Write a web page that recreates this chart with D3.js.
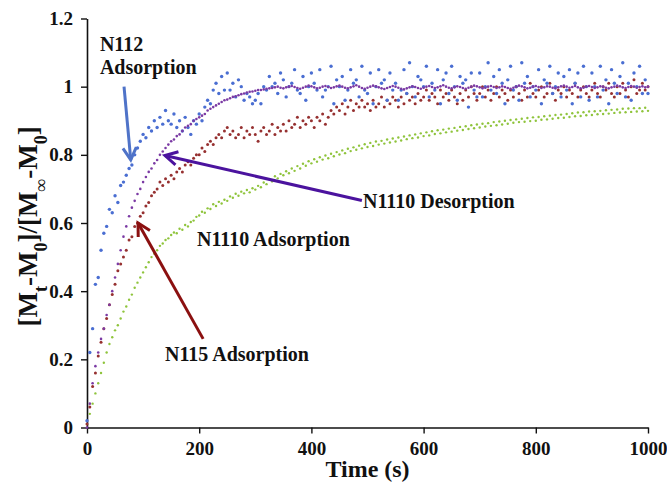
<!DOCTYPE html>
<html>
<head>
<meta charset="utf-8">
<script src="https://cdn.jsdelivr.net/npm/d3@7"></script>
<style>
  html, body { margin: 0; padding: 0; background: #fff; }
  svg { display: block; }
  text { font-family: "Liberation Serif", "Times New Roman", serif; font-weight: bold; fill: #111; }
</style>
</head>
<body>
<svg id="chart" width="667" height="486"></svg>
<script>
// Sampling interval of the uptake runs (s)
const timeStep = 5;

// Normalised uptake [Mt-M0]/[Minf-M0], one value every 5 s from 0 to 1000 s
const n112Adsorption = [
  0.02, 0.22, 0.29, 0.42, 0.44, 0.52, 0.57, 0.59, 0.64, 0.63,
  0.68, 0.66, 0.71, 0.72, 0.74, 0.76, 0.77, 0.80, 0.82, 0.84,
  0.86, 0.85, 0.88, 0.87, 0.90, 0.88, 0.91, 0.89, 0.93, 0.90,
  0.89, 0.92, 0.88, 0.90, 0.87, 0.91, 0.88, 0.86, 0.90, 0.89,
  0.92, 0.90, 0.94, 0.96, 0.95, 0.99, 1.01, 0.98, 1.03, 0.99,
  1.04, 0.99, 1.01, 0.97, 1.02, 1.00, 0.96, 0.98, 0.97, 0.95,
  0.96, 0.98, 0.95, 1.00, 0.99, 1.03, 1.00, 1.01, 0.98, 1.04,
  1.02, 0.97, 1.00, 1.01, 1.05, 0.99, 0.98, 1.03, 0.96, 1.00,
  1.04, 1.01, 0.99, 1.05, 0.97, 0.99, 1.00, 1.06, 0.95, 1.02,
  1.00, 1.03, 0.96, 0.99, 1.05, 1.01, 1.02, 0.97, 1.06, 0.99,
  0.98, 1.04, 0.95, 1.00, 1.05, 1.01, 1.02, 0.96, 1.04, 0.99,
  1.01, 0.96, 0.99, 1.05, 0.98, 1.07, 1.00, 0.97, 1.03, 1.02,
  1.00, 1.06, 0.97, 1.01, 0.99, 1.05, 0.95, 1.02, 1.04, 0.98,
  1.06, 1.00, 0.96, 1.03, 1.01, 1.02, 0.94, 1.04, 0.99, 0.97,
  1.04, 0.97, 1.00, 1.07, 0.99, 1.03, 0.98, 1.05, 1.01, 0.95,
  1.02, 1.06, 0.99, 1.00, 0.96, 1.07, 1.01, 1.03, 0.97, 1.00,
  0.99, 1.05, 0.95, 1.02, 1.01, 1.06, 0.98, 1.00, 1.04, 0.97,
  1.03, 0.99, 1.05, 0.95, 1.01, 1.04, 0.97, 1.06, 1.00, 0.96,
  1.04, 1.00, 0.97, 1.06, 0.99, 1.02, 0.95, 1.05, 1.01, 0.98,
  1.03, 1.07, 0.97, 1.01, 0.96, 1.04, 1.00, 1.06, 0.98, 1.02,
  0.98
];

const n1110Desorption = [
  0.00, 0.07, 0.13, 0.18, 0.22, 0.26, 0.29, 0.33, 0.36, 0.40,
  0.44, 0.48, 0.52, 0.56, 0.59, 0.62, 0.645, 0.665, 0.685, 0.70,
  0.72, 0.735, 0.75, 0.76, 0.775, 0.785, 0.80, 0.81, 0.82, 0.83,
  0.84, 0.845, 0.855, 0.86, 0.87, 0.88, 0.885, 0.89, 0.90, 0.905,
  0.91, 0.915, 0.92, 0.93, 0.935, 0.94, 0.945, 0.95, 0.955, 0.96,
  0.962, 0.966, 0.97, 0.972, 0.975, 0.978, 0.98, 0.983, 0.985, 0.986,
  0.988, 0.99, 0.99, 0.992, 0.994, 0.995, 0.996, 0.998, 1.0, 0.997,
  0.995, 0.998, 1.0, 1.002, 0.999, 0.996, 0.994, 0.997, 1.0, 1.003,
  1.001, 0.998, 0.995, 0.997, 1.0, 1.002, 0.999, 0.996, 0.998, 1.001,
  1.003, 1.0, 0.997, 0.995, 0.998, 1.001, 1.004, 1.0, 0.996, 0.994,
  0.997, 1.0, 1.003, 1.001, 0.998, 0.995, 0.993, 0.996, 0.999, 1.002,
  1.0, 0.997, 0.994, 0.992, 0.995, 0.998, 1.001, 0.999, 0.996, 0.994,
  0.997, 1.0, 1.002, 0.999, 0.996, 0.998, 1.001, 1.004, 1.0, 0.997,
  0.995, 0.998, 1.001, 0.999, 0.996, 0.994, 0.997, 1.0, 1.003, 1.001,
  0.998, 0.995, 0.997, 1.0, 1.002, 0.999, 0.996, 0.998, 1.001, 0.999,
  0.996, 0.994, 0.997, 1.0, 1.003, 1.001, 0.998, 0.995, 0.997, 1.0,
  1.002, 0.999, 0.996, 0.998, 1.001, 1.0, 0.997, 0.995, 0.998, 1.001,
  1.003, 1.0, 0.997, 0.999, 1.002, 0.998, 0.995, 0.997, 1.0, 1.002,
  0.999, 0.996, 0.998, 1.001, 1.0, 0.997, 0.995, 0.998, 1.0, 1.003,
  1.001, 0.998, 0.996, 0.999, 1.002, 1.0, 0.997, 0.999, 1.001, 0.998,
  1.0
];

const n115Adsorption = [
  0.01, 0.06, 0.12, 0.16, 0.21, 0.25, 0.29, 0.32, 0.36, 0.39,
  0.42, 0.46, 0.48, 0.50, 0.52, 0.55, 0.56, 0.59, 0.60, 0.62,
  0.63, 0.65, 0.66, 0.68, 0.69, 0.70, 0.72, 0.71, 0.73, 0.72,
  0.74, 0.73, 0.75, 0.76, 0.75, 0.77, 0.78, 0.77, 0.79, 0.80,
  0.80, 0.82, 0.81, 0.83, 0.84, 0.83, 0.85, 0.86, 0.85, 0.87,
  0.88, 0.86, 0.87, 0.85, 0.86, 0.88, 0.85, 0.87, 0.86, 0.88,
  0.86, 0.84, 0.87, 0.88, 0.86, 0.87, 0.89, 0.86, 0.88, 0.87,
  0.89, 0.87, 0.90, 0.88, 0.89, 0.91, 0.88, 0.90, 0.89, 0.91,
  0.90, 0.88, 0.91, 0.90, 0.92, 0.89, 0.91, 0.93, 0.92, 0.94,
  0.93, 0.95, 0.92, 0.94, 0.96, 0.93, 0.95, 0.94, 0.96, 0.94,
  0.95, 0.93, 0.96, 0.94, 0.95, 0.97, 0.94, 0.96, 0.95, 0.97,
  0.96, 0.94, 0.97, 0.95, 0.98, 0.96, 0.97, 0.95, 0.98, 0.96,
  0.97, 0.99, 0.96, 0.98, 0.97, 0.95, 0.99, 0.97, 0.98, 0.96,
  0.99, 0.97, 0.95, 0.98, 0.96, 0.99, 0.97, 1.00, 0.98, 0.96,
  0.98, 1.00, 0.97, 0.99, 0.96, 0.98, 1.00, 0.97, 0.99, 0.98,
  0.96, 0.99, 0.97, 1.00, 0.98, 0.96, 0.99, 0.97, 1.01, 0.98,
  0.97, 0.99, 1.00, 0.97, 0.98, 1.01, 0.98, 0.96, 0.99, 0.98,
  1.00, 0.97, 0.99, 0.98, 1.01, 0.97, 0.99, 1.00, 0.98, 0.97,
  0.99, 1.01, 0.98, 0.97, 1.00, 0.99, 1.01, 0.98, 0.97, 1.00,
  0.98, 1.01, 0.99, 0.97, 1.00, 1.02, 0.98, 0.99, 1.01, 0.99,
  1.00
];

const n1110Adsorption = [
  0.01, 0.04, 0.07, 0.10, 0.13, 0.16, 0.19, 0.22, 0.245, 0.265,
  0.285, 0.30, 0.32, 0.34, 0.355, 0.375, 0.39, 0.41, 0.425, 0.44,
  0.455, 0.47, 0.485, 0.50, 0.51, 0.52, 0.533, 0.54, 0.55, 0.555,
  0.565, 0.572, 0.570, 0.583, 0.580, 0.594, 0.590, 0.603, 0.607, 0.618,
  0.622, 0.633, 0.630, 0.643, 0.641, 0.655, 0.650, 0.662, 0.657, 0.668,
  0.665, 0.678, 0.674, 0.686, 0.680, 0.692, 0.687, 0.697, 0.690, 0.702,
  0.698, 0.709, 0.705, 0.719, 0.714, 0.728, 0.722, 0.737, 0.731, 0.744,
  0.740, 0.752, 0.746, 0.760, 0.753, 0.767, 0.760, 0.774, 0.768, 0.781,
  0.775, 0.787, 0.780, 0.793, 0.786, 0.798, 0.790, 0.803, 0.796, 0.808,
  0.801, 0.813, 0.805, 0.818, 0.811, 0.822, 0.815, 0.827, 0.819, 0.831,
  0.823, 0.835, 0.826, 0.839, 0.830, 0.841, 0.833, 0.845, 0.836, 0.848,
  0.839, 0.851, 0.842, 0.854, 0.846, 0.857, 0.849, 0.860, 0.851, 0.863,
  0.855, 0.866, 0.857, 0.869, 0.861, 0.872, 0.863, 0.874, 0.866, 0.877,
  0.868, 0.879, 0.871, 0.882, 0.873, 0.884, 0.876, 0.887, 0.878, 0.889,
  0.880, 0.891, 0.883, 0.893, 0.885, 0.896, 0.887, 0.898, 0.889, 0.900,
  0.891, 0.902, 0.894, 0.904, 0.896, 0.906, 0.897, 0.908, 0.899, 0.910,
  0.900, 0.911, 0.903, 0.913, 0.904, 0.915, 0.906, 0.917, 0.908, 0.918,
  0.909, 0.920, 0.911, 0.922, 0.913, 0.924, 0.914, 0.925, 0.916, 0.927,
  0.917, 0.928, 0.919, 0.929, 0.920, 0.931, 0.921, 0.932, 0.923, 0.933,
  0.924, 0.935, 0.925, 0.936, 0.926, 0.937, 0.927, 0.937, 0.928, 0.938,
  0.929
];

const xTicks = [0, 200, 400, 600, 800, 1000];
const xTickLabels = ["0", "200", "400", "600", "800", "1000"];
const yTicks = [0, 0.2, 0.4, 0.6, 0.8, 1, 1.2];
const yTickLabels = ["0", "0.2", "0.4", "0.6", "0.8", "1", "1.2"];

const svg = d3.select("#chart");
const x = d3.scaleLinear().domain([0, 1000]).range([87, 648]);
const y = d3.scaleLinear().domain([0, 1.2]).range([427.5, 18.5]);

// Axes
const xAxis = svg.append("g")
  .attr("transform", `translate(0,${y(0)})`)
  .call(d3.axisBottom(x).tickValues(xTicks).tickFormat((d, i) => xTickLabels[i])
    .tickSize(6).tickSizeOuter(0).tickPadding(5));
const yAxis = svg.append("g")
  .attr("transform", `translate(${x(0)},0)`)
  .call(d3.axisLeft(y).tickValues(yTicks).tickFormat((d, i) => yTickLabels[i])
    .tickSize(6).tickSizeOuter(0).tickPadding(8));

[xAxis, yAxis].forEach(g => {
  g.select(".domain").attr("stroke", "#111").attr("stroke-width", 1.6);
  g.selectAll(".tick line").attr("stroke", "#111").attr("stroke-width", 1.4);
  g.selectAll(".tick text")
    .attr("font-family", "Liberation Serif, Times New Roman, serif")
    .attr("font-weight", "bold")
    .attr("font-size", 19)
    .attr("fill", "#111");
});
xAxis.selectAll(".tick text").attr("dy", "0.85em");

// Axis titles
svg.append("text")
  .attr("x", x(500)).attr("y", 477)
  .attr("text-anchor", "middle")
  .attr("font-size", 24)
  .text("Time (s)");

const yTitle = svg.append("text")
  .attr("transform", `translate(37,${y(0.59)}) rotate(-90)`)
  .attr("text-anchor", "middle")
  .attr("font-size", 27);
const yParts = [["[M", null], ["t", "sub"], ["-M", null], ["0", "sub"], ["]/[M", null],
                ["\u221E", "sub"], ["-M", null], ["0", "sub"], ["]", null]];
yParts.forEach(([t, kind]) => {
  const ts = yTitle.append("tspan").text(t);
  if (kind === "sub") ts.attr("font-size", 18).attr("baseline-shift", "sub");
});

// Series, drawn back to front
const series = [
  { values: n1110Adsorption, color: "#8fc43c", r: 1.2 },
  { values: n115Adsorption,  color: "#963030", r: 1.5 },
  { values: n112Adsorption,  color: "#4a6ed2", r: 1.7 },
  { values: n1110Desorption, color: "#7b3aa4", r: 1.3 }
];
series.forEach(s => {
  svg.append("g").selectAll("circle")
    .data(s.values)
    .join("circle")
    .attr("cx", (d, i) => x(i * timeStep))
    .attr("cy", d => y(d))
    .attr("r", s.r)
    .attr("fill", s.color);
});

// Annotations: arrows in data coordinates, open V heads
function arrow(from, to, color) {
  const x0 = x(from[0]), y0 = y(from[1]), x1 = x(to[0]), y1 = y(to[1]);
  const ang = Math.atan2(y1 - y0, x1 - x0);
  const len = 14, spread = 0.5;
  const g = svg.append("g").attr("stroke", color).attr("stroke-width", 3)
    .attr("fill", "none").attr("stroke-linecap", "butt");
  g.append("line").attr("x1", x0).attr("y1", y0).attr("x2", x1).attr("y2", y1);
  g.append("path").attr("d",
    `M${x1 - len * Math.cos(ang - spread)},${y1 - len * Math.sin(ang - spread)}` +
    `L${x1},${y1}` +
    `L${x1 - len * Math.cos(ang + spread)},${y1 - len * Math.sin(ang + spread)}`)
    .attr("stroke-linejoin", "miter");
}
arrow([66, 1.0], [78, 0.785], "#4f73c8");
arrow([490, 0.666], [139, 0.798], "#4b139e");
arrow([207, 0.26], [91, 0.60], "#8b1010");

const labels = [
  { t: 23, v: 1.105, text: "N112" },
  { t: 23, v: 1.036, text: "Adsorption" },
  { t: 492, v: 0.644, text: "N1110 Desorption" },
  { t: 196, v: 0.533, text: "N1110 Adsorption" },
  { t: 139, v: 0.195, text: "N115 Adsorption" }
];
svg.append("g").selectAll("text")
  .data(labels)
  .join("text")
  .attr("x", d => x(d.t))
  .attr("y", d => y(d.v))
  .attr("font-size", 20)
  .text(d => d.text);
</script>
</body>
</html>
